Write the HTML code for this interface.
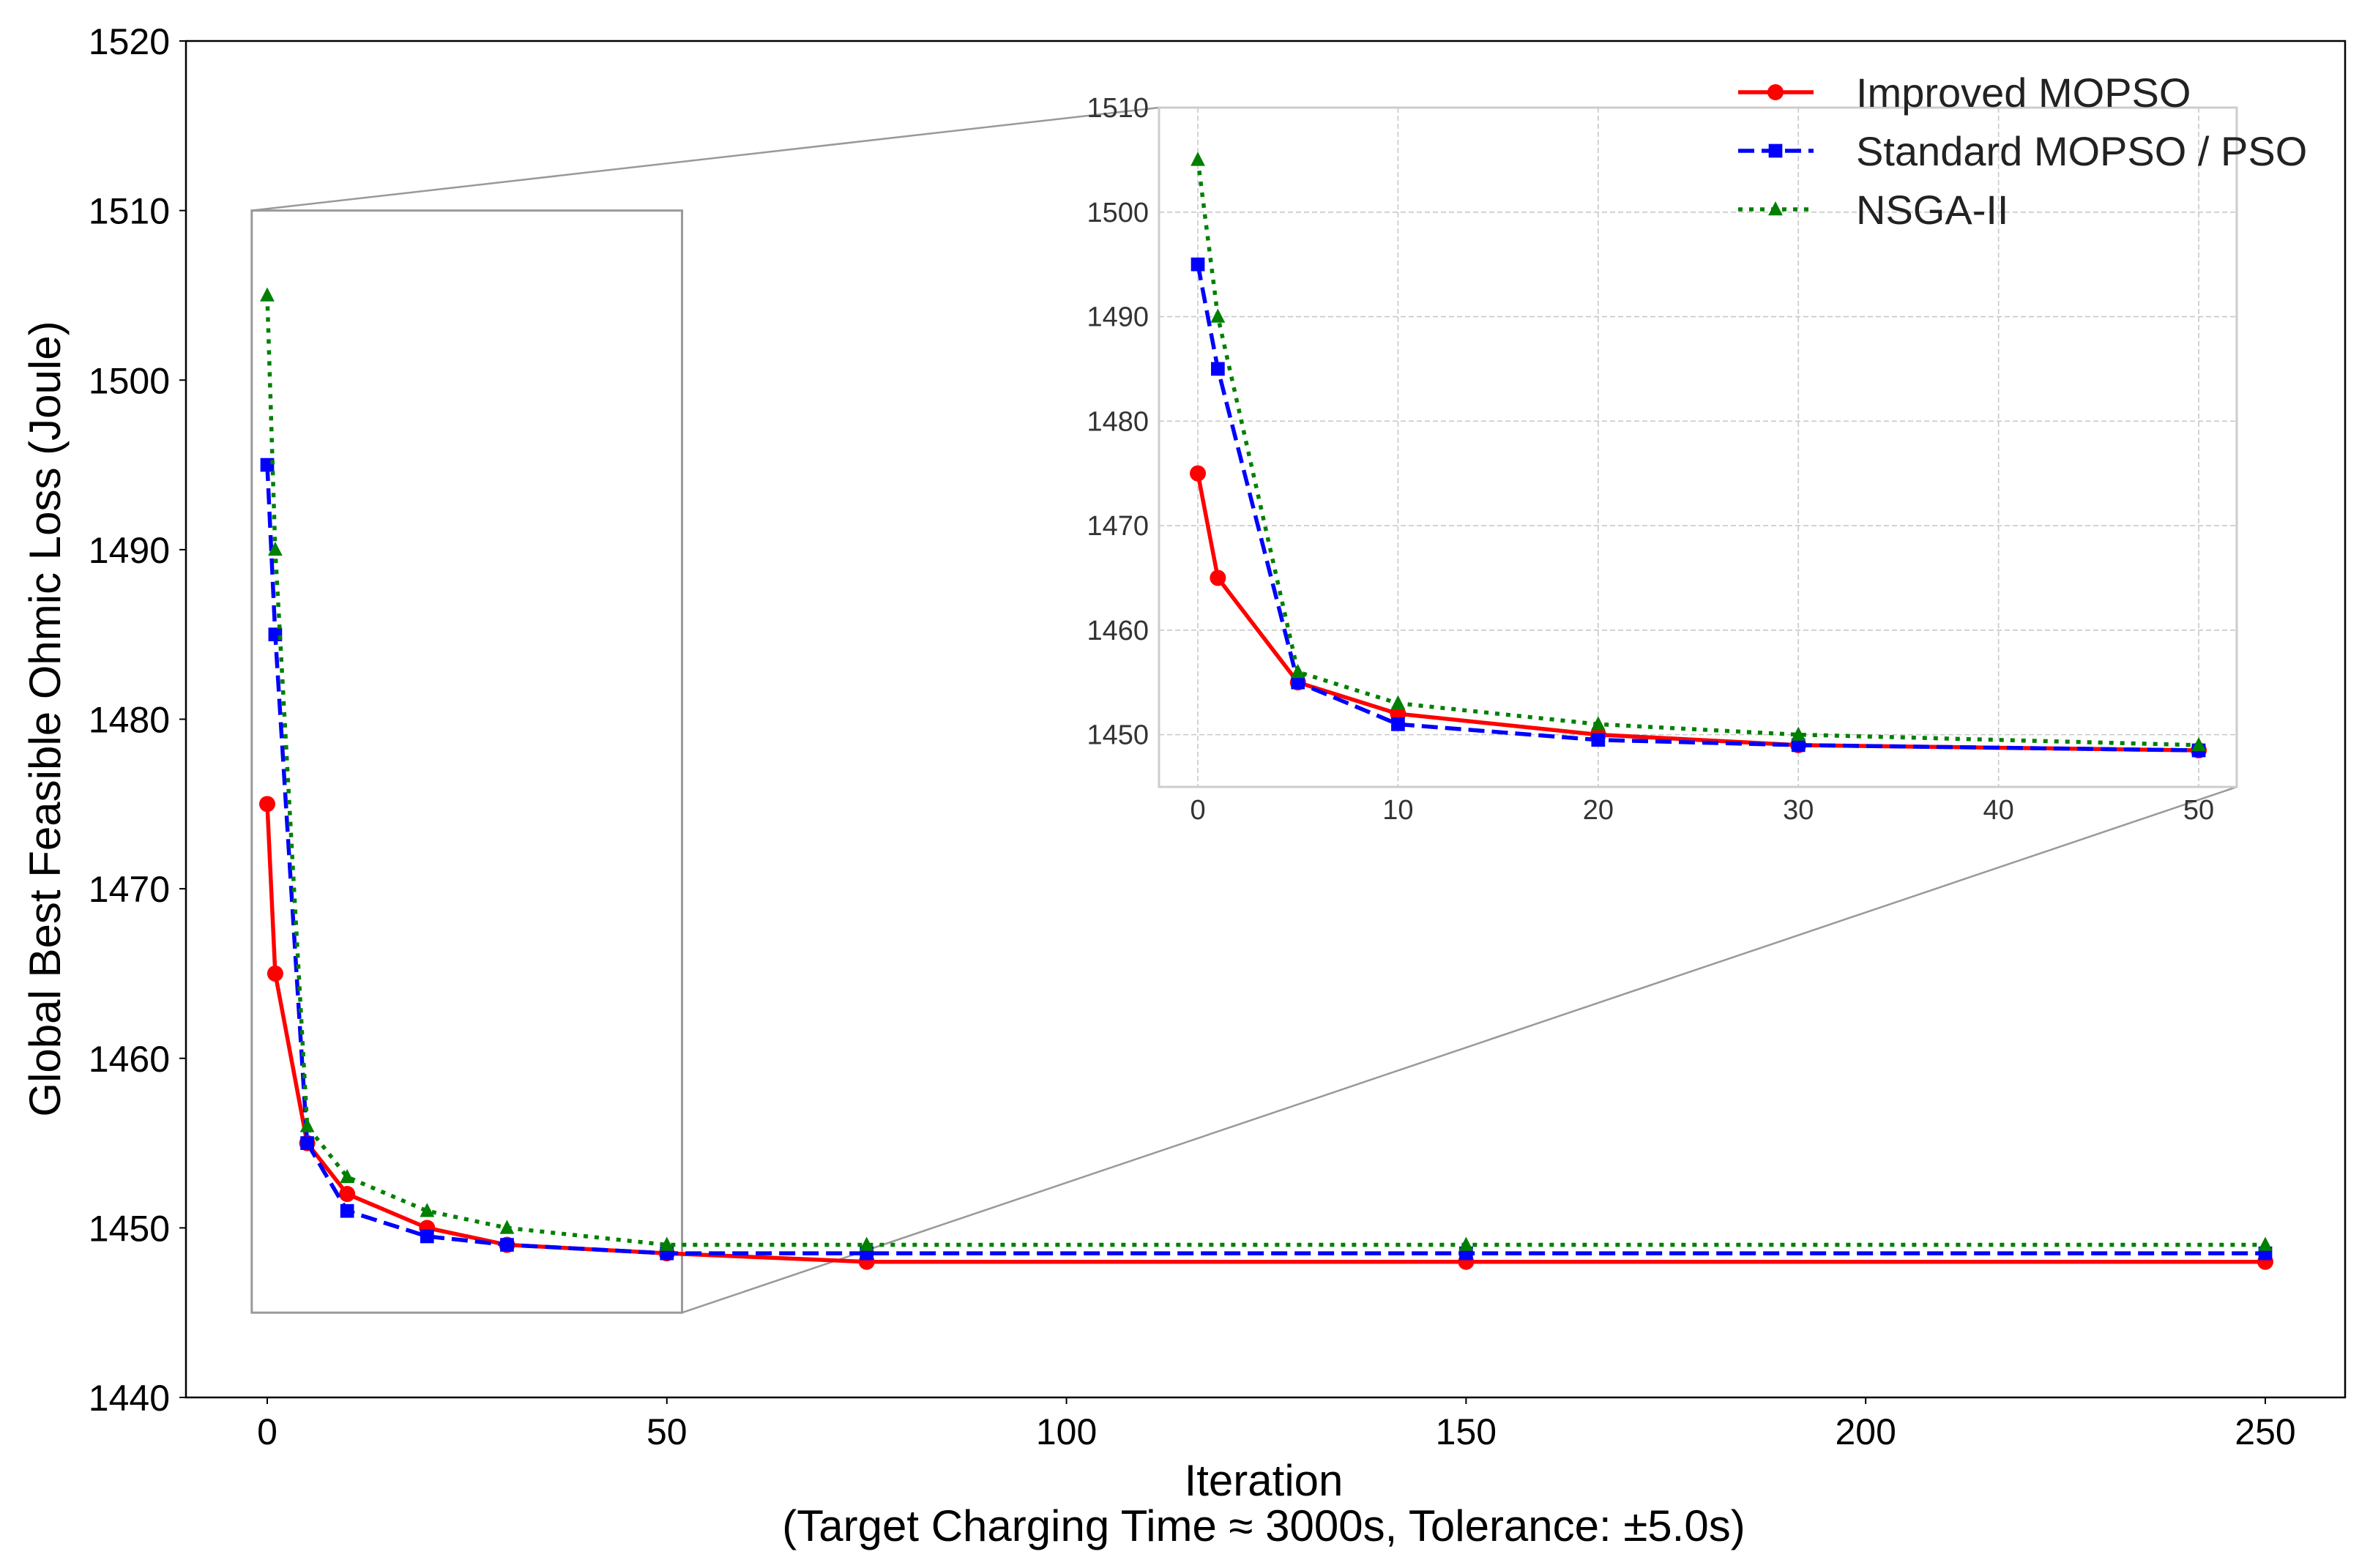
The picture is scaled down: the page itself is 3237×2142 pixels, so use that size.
<!DOCTYPE html>
<html><head><meta charset="utf-8"><style>
html,body{margin:0;padding:0;background:#fff}
svg{display:block;font-family:"Liberation Sans","DejaVu Sans",sans-serif}
</style></head><body>
<svg id="chart" width="3237" height="2142" viewBox="0 0 3237 2142" xmlns="http://www.w3.org/2000/svg"></svg>
<script>
const iterations = [0,1,5,10,20,30,50,75,150,250];
const improvedMopso = [1475,1465,1455,1452,1450,1449,1448.5,1448,1448,1448];
const standardMopso = [1495,1485,1455,1451,1449.5,1449,1448.5,1448.5,1448.5,1448.5];
const nsga2 = [1505,1490,1456,1453,1451,1450,1449,1449,1449,1449];
const mainXTicks = [0,50,100,150,200,250];
const mainYTicks = [1440,1450,1460,1470,1480,1490,1500,1510,1520];
const insetXTicks = [0,10,20,30,40,50];
const insetYTicks = [1450,1460,1470,1480,1490,1500,1510];

const NS='http://www.w3.org/2000/svg';
const svg=document.getElementById('chart');
function mk(tag,attrs,parent,text){const e=document.createElementNS(NS,tag);for(const k in attrs)e.setAttribute(k,attrs[k]);if(text!==undefined)e.textContent=text;(parent||svg).appendChild(e);return e;}

const M={l:254,r:3203,t:56,b:1909,y0:1440,y1:1520};
const mx=v=>365+(v-0)*(3094-365)/250;
const my=v=>M.b-(v-M.y0)*(M.b-M.t)/(M.y1-M.y0);
const I={l:1583,r:3055,t:147,b:1075,x0:-1.94,x1:51.9,y0:1445,y1:1510};
const ix=v=>I.l+(v-I.x0)*(I.r-I.l)/(I.x1-I.x0);
const iy=v=>I.b-(v-I.y0)*(I.b-I.t)/(I.y1-I.y0);

const series=[
 {name:'improved-mopso',label:'Improved MOPSO',data:improvedMopso,color:'#ff0000',dash:'',marker:'circle'},
 {name:'standard-mopso',label:'Standard MOPSO / PSO',data:standardMopso,color:'#0000ff',dash:'22,10',marker:'square'},
 {name:'nsga-ii',label:'NSGA-II',data:nsga2,color:'#008000',dash:'6,9',marker:'triangle'}
];

function marker(g,type,x,y,color,s){
 let e;
 if(type==='circle')e=mk('circle',{cx:x,cy:y,r:s,fill:color},g);
 else if(type==='square')e=mk('rect',{x:x-s*0.85,y:y-s*0.85,width:s*1.7,height:s*1.7,fill:color},g);
 else e=mk('polygon',{points:`${x},${y-s} ${x-s*0.9},${y+s*0.75} ${x+s*0.9},${y+s*0.75}`,fill:color},g);
 return e;
}

function drawSeries(g,fx,fy,filter,lw,ms,prefix){
 series.forEach(s=>{
  const sg=mk('g',{},g);
  
  
  const pts=[];
  iterations.forEach((it,i)=>{if(filter(it))pts.push([fx(it),fy(s.data[i])]);});
  const pl=mk('polyline',{points:pts.map(p=>p.join(',')).join(' '),fill:'none',stroke:s.color,'stroke-width':lw,'stroke-dasharray':s.dash,'stroke-linejoin':'round'},sg);
  
  
  pts.forEach(p=>{const m=marker(sg,s.marker,p[0],p[1],s.color,ms);
   
   });
 });
}

const mainG=mk('g',{});


mk('rect',{x:M.l,y:M.t,width:M.r-M.l,height:M.b-M.t,fill:'#fff',stroke:'#000','stroke-width':2.5},mainG);
mainYTicks.forEach(v=>{
 mk('line',{x1:M.l-9,x2:M.l,y1:my(v),y2:my(v),stroke:'#000','stroke-width':2},mainG);
 const t=mk('text',{x:M.l-22,y:my(v)+18,'text-anchor':'end','font-size':50},mainG,String(v));
 
 
});
mainXTicks.forEach(v=>{
 mk('line',{x1:mx(v),x2:mx(v),y1:M.b,y2:M.b+9,stroke:'#000','stroke-width':2},mainG);
 const t=mk('text',{x:mx(v),y:M.b+64,'text-anchor':'middle','font-size':50},mainG,String(v));
 
 
});
const zr=mk('rect',{x:mx(I.x0),y:my(I.y1),width:mx(I.x1)-mx(I.x0),height:my(I.y0)-my(I.y1),fill:'none',stroke:'#999','stroke-width':3},mainG);


mk('line',{x1:mx(I.x0),y1:my(I.y1),x2:I.l,y2:I.t,stroke:'#999','stroke-width':2.5},mainG);
mk('line',{x1:mx(I.x1),y1:my(I.y0),x2:I.r,y2:I.b,stroke:'#999','stroke-width':2.5},mainG);
drawSeries(mainG,mx,my,()=>true,5.5,11,'main');

const insG=mk('g',{});


mk('rect',{x:I.l,y:I.t,width:I.r-I.l,height:I.b-I.t,fill:'#fff',stroke:'none'},insG);
insetYTicks.forEach(v=>{
 mk('line',{x1:I.l,x2:I.r,y1:iy(v),y2:iy(v),stroke:'#c8c8c8','stroke-width':1.6,'stroke-dasharray':'7,4'},insG);
 const t=mk('text',{x:I.l-14,y:iy(v)+13,'text-anchor':'end','font-size':38,fill:'#333'},insG,String(v));
 
 
});
insetXTicks.forEach(v=>{
 mk('line',{x1:ix(v),x2:ix(v),y1:I.t,y2:I.b,stroke:'#c8c8c8','stroke-width':1.6,'stroke-dasharray':'7,4'},insG);
 const t=mk('text',{x:ix(v),y:I.b+44,'text-anchor':'middle','font-size':38,fill:'#333'},insG,String(v));
 
 
});
mk('rect',{x:I.l,y:I.t,width:I.r-I.l,height:I.b-I.t,fill:'none',stroke:'#cccccc','stroke-width':3},insG);
const clip=mk('clipPath',{id:'insclip'},svg);
mk('rect',{x:I.l,y:I.t,width:I.r-I.l,height:I.b-I.t},clip);
const insData=mk('g',{'clip-path':'url(#insclip)'},insG);
drawSeries(insData,ix,iy,v=>v<=60,5.5,11,'inset');

const lg=mk('g',{});


series.forEach((s,i)=>{
 const y=126+i*80;
 const e=mk('g',{},lg);
 
 
 mk('line',{x1:2374,x2:2477,y1:y,y2:y,stroke:s.color,'stroke-width':5.5,'stroke-dasharray':s.dash},e);
 marker(e,s.marker,2425,y,s.color,11);
 mk('text',{x:2535,y:y+20,'font-size':56,fill:'#222'},e,s.label);
});

const yt=mk('text',{x:0,y:0,transform:'translate(82,982) rotate(-90)','text-anchor':'middle','font-size':60},svg,'Global Best Feasible Ohmic Loss (Joule)');


const xt=mk('text',{x:1726,y:2043,'text-anchor':'middle','font-size':60},svg,'Iteration');


const xs=mk('text',{x:1726,y:2105,'text-anchor':'middle','font-size':60},svg,'(Target Charging Time ≈ 3000s, Tolerance: ±5.0s)');


</script>
</body></html>
